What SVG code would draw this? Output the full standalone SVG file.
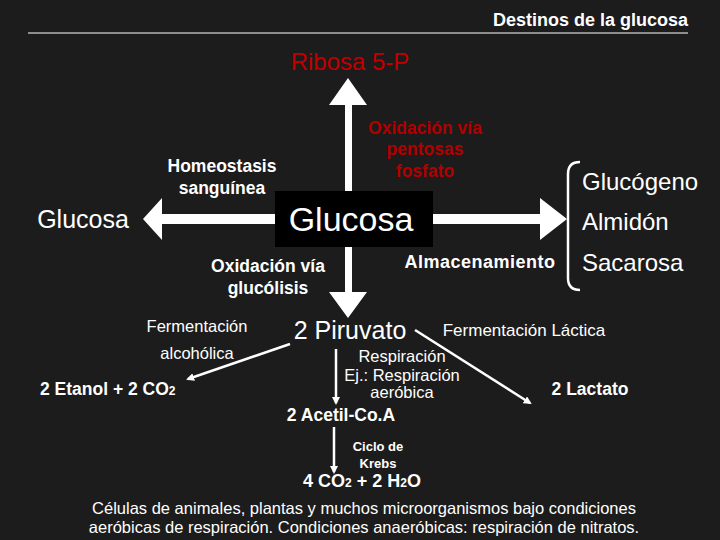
<svg xmlns="http://www.w3.org/2000/svg" width="720" height="540" viewBox="0 0 720 540">
<style>
text{font-family:"Liberation Sans",Arial,sans-serif;fill:#fff}
.b{font-weight:bold}
.r{fill:#b00000;font-weight:bold}
.thin{stroke:#fff;stroke-width:2.5;fill:none}
</style>
<defs>
<marker id="ah" markerWidth="8" markerHeight="8" refX="6" refY="4" orient="auto" markerUnits="userSpaceOnUse"><path d="M0,0L8,4L0,8z" fill="#fff"/></marker>
</defs>
<rect width="720" height="540" fill="#1c1c1c"/>
<text x="688" y="26" text-anchor="end" font-size="18" class="b">Destinos de la glucosa</text>
<line x1="28" y1="33" x2="688" y2="33" stroke="#fff" stroke-width="1"/>
<g id="connectors" fill="#fff">
<path d="M345,191V105H329L348,78L367,105H352V191z"/>
<path d="M345,247V292H329L348,318L367,292H352V247z"/>
<path d="M275,214H162V198L143,219L162,240V224H275z"/>
<path d="M433,214H540V198L567,219L540,240V224H433z"/>
<line class="thin" x1="290" y1="344" x2="188" y2="379" marker-end="url(#ah)"/>
<line class="thin" x1="415" y1="330" x2="530" y2="403" marker-end="url(#ah)"/>
<line class="thin" x1="336" y1="349" x2="336" y2="403" stroke-width="1.5" marker-end="url(#ah)"/>
<line class="thin" x1="334" y1="427" x2="334" y2="472" stroke-width="1.5" marker-end="url(#ah)"/>
</g>
<g id="ribosa"><text x="350" y="70" text-anchor="middle" font-size="24" style="fill:#c00000">Ribosa 5-P</text></g>
<g id="pentosas" font-size="17.5"><text class="r" x="425" y="134" text-anchor="middle">Oxidación vía</text><text class="r" x="425" y="155" text-anchor="middle">pentosas</text><text class="r" x="425" y="177" text-anchor="middle">fosfato</text></g>
<g id="homeo" font-size="17.5"><text class="b" x="222" y="172" text-anchor="middle">Homeostasis</text><text class="b" x="222" y="194" text-anchor="middle">sanguínea</text></g>
<g id="glucosa-left"><text x="83" y="228" text-anchor="middle" font-size="25">Glucosa</text></g>
<g id="glucosa"><rect x="275" y="191" width="158" height="56" fill="#000"/><text x="351" y="231" text-anchor="middle" font-size="34">Glucosa</text></g>
<g id="storage"><path d="M580,162Q568,162 568,174V278Q568,290 580,290" class="thin" stroke-width="1"/>
<text x="582" y="190" font-size="24">Glucógeno</text><text x="582" y="230" font-size="24">Almidón</text><text x="582" y="271" font-size="24">Sacarosa</text></g>
<g id="almac"><text class="b" x="480" y="268" text-anchor="middle" font-size="18" letter-spacing="0.5">Almacenamiento</text></g>
<g id="glucolisis" font-size="17.5"><text class="b" x="268" y="272" text-anchor="middle">Oxidación vía</text><text class="b" x="268" y="294" text-anchor="middle">glucólisis</text></g>
<g id="piruvato"><text x="350" y="339" text-anchor="middle" font-size="25">2 Piruvato</text></g>
<g id="ferm-alc" font-size="16.5"><text x="197" y="332" text-anchor="middle">Fermentación</text><text x="197" y="359" text-anchor="middle">alcohólica</text></g>
<g id="etanol"><text class="b" x="40" y="395" font-size="17.5">2 Etanol + 2 CO<tspan font-size="12">2</tspan></text></g>
<g id="ferm-lac"><text x="524" y="336" text-anchor="middle" font-size="17">Fermentación Láctica</text></g>
<g id="lactato"><text class="b" x="590" y="395" text-anchor="middle" font-size="17.5">2 Lactato</text></g>
<g id="resp" font-size="16.5"><text x="402" y="362" text-anchor="middle">Respiración</text><text x="402" y="381" text-anchor="middle">Ej.: Respiración</text><text x="402" y="398" text-anchor="middle">aeróbica</text></g>
<g id="acetil"><text class="b" x="341" y="421" text-anchor="middle" font-size="17.5">2 Acetil-Co.A</text></g>
<g id="krebs" font-size="13"><text class="b" x="378" y="451" text-anchor="middle">Ciclo de</text><text class="b" x="378" y="468" text-anchor="middle">Krebs</text></g>
<g id="co2"><text class="b" x="362" y="487" text-anchor="middle" font-size="18">4 CO<tspan font-size="12">2</tspan> + 2 H<tspan font-size="12">2</tspan>O</text></g>
<g id="foot" font-size="16.5"><text x="364" y="514" text-anchor="middle">Células de animales, plantas y muchos microorganismos bajo condiciones</text><text x="364" y="533" text-anchor="middle">aeróbicas de respiración. Condiciones anaeróbicas: respiración de nitratos.</text></g>
</svg>
